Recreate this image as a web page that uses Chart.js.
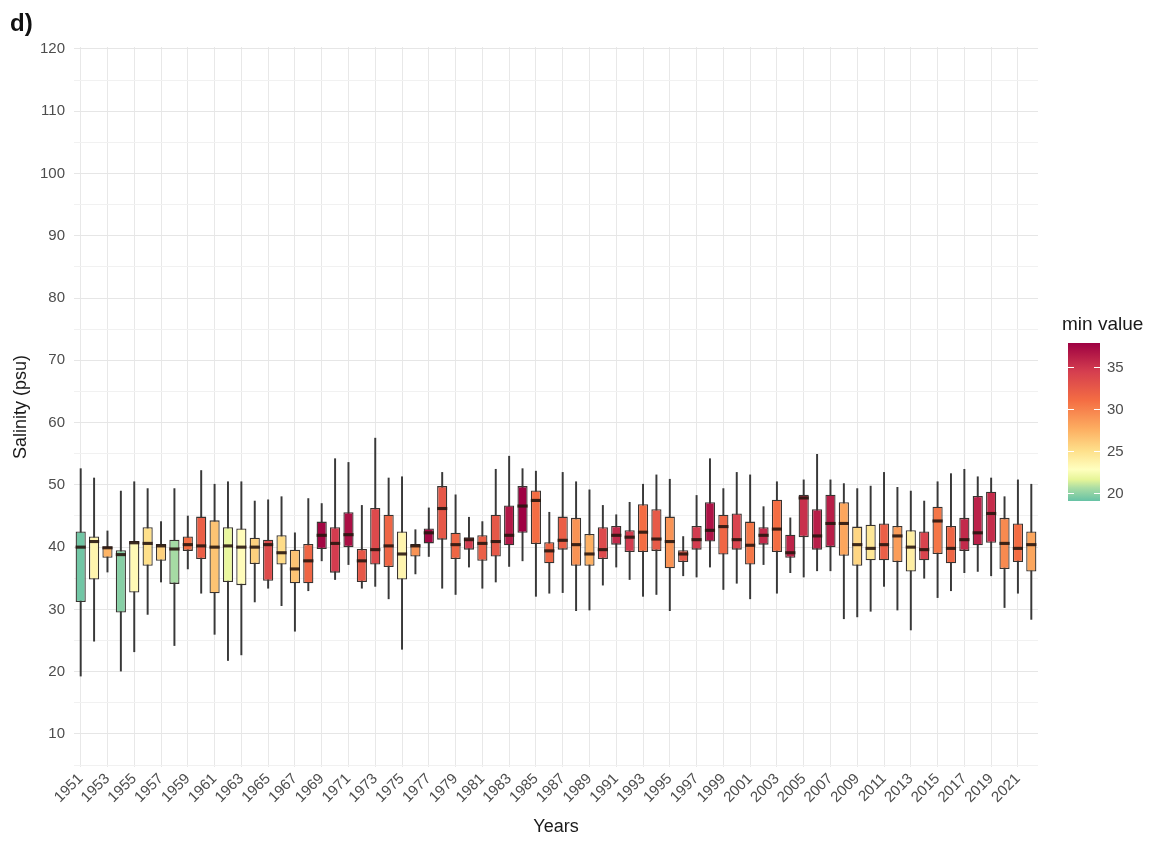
<!DOCTYPE html>
<html>
<head>
<meta charset="utf-8">
<script src="https://cdn.jsdelivr.net/npm/chart.js@4/dist/chart.umd.min.js"></script>
<style>
  body { margin: 0; background: #fff; font-family: "Liberation Sans", Arial, sans-serif; }
  #wrap { position: relative; width: 1160px; height: 842px; }
  #chart { position: absolute; left: 0; top: 0; }
  #tag { position: absolute; left: 10px; top: 9px; font-weight: bold; font-size: 24px; color: #111; }
  #legTitle { position: absolute; left: 1062px; top: 313px; font-size: 19px; color: #1a1a1a; }
  #legBar { position: absolute; left: 1068px; top: 343px; width: 32px; height: 158px; }
  .legLab { position: absolute; left: 1107px; font-size: 15px; color: #4d4d4d; line-height: 16px; }
  .legTick { position: absolute; width: 6px; height: 1px; background: #fff; }
</style>
</head>
<body>
<div id="wrap">
  <canvas id="chart" width="1160" height="842"></canvas>
  <div id="tag">d)</div>
  <div id="legTitle">min value</div>
  <div id="legBar"></div>
</div>
<script>
var years = ["1951","1952","1953","1954","1955","1956","1957","1958","1959","1960",
  "1961","1962","1963","1964","1965","1966","1967","1968","1969","1970",
  "1971","1972","1973","1974","1975","1976","1977","1978","1979","1980",
  "1981","1982","1983","1984","1985","1986","1987","1988","1989","1990",
  "1991","1992","1993","1994","1995","1996","1997","1998","1999","2000",
  "2001","2002","2003","2004","2005","2006","2007","2008","2009","2010",
  "2011","2012","2013","2014","2015","2016","2017","2018","2019","2020",
  "2021","2022"];

// boxplot stats per year (psu)
var whiskerHigh = [52.6,51.1,42.6,49.0,50.5,49.4,44.1,49.4,45.0,52.3,
  50.1,50.5,50.5,47.4,47.6,48.1,42.3,47.8,47.0,54.2,
  53.6,46.7,57.5,51.1,51.3,42.8,46.3,52.0,48.4,44.8,
  44.1,52.5,54.6,52.6,52.2,45.6,52.0,50.5,49.2,46.7,
  45.2,47.2,50.1,51.6,50.9,41.7,48.3,54.2,49.4,52.0,
  51.6,46.5,50.5,44.7,50.8,54.9,50.8,50.2,49.4,49.8,
  52.0,49.6,49.0,47.4,50.5,51.8,52.5,51.3,51.1,48.1,
  50.8,50.1];
var upperQ = [42.5,41.7,40.1,39.5,41.0,43.2,40.5,41.2,41.7,44.9,
  44.3,43.2,43.0,41.5,41.2,41.9,39.6,40.5,44.1,43.2,
  45.6,39.7,46.3,45.2,42.5,40.5,43.0,49.8,42.3,41.6,
  41.9,45.2,46.7,49.8,49.1,40.8,44.9,44.7,42.1,43.2,
  43.4,42.7,46.9,46.1,44.9,39.5,43.4,47.2,45.2,45.4,
  44.1,43.2,47.6,42.0,48.4,46.1,48.4,47.2,43.3,43.6,
  43.8,43.4,42.7,42.5,46.5,43.4,44.7,48.2,48.9,44.7,
  43.8,42.5];
var medians = [40.0,40.9,39.9,38.8,40.7,40.6,40.2,39.7,40.4,40.2,
  40.0,40.2,40.0,40.0,40.4,39.1,36.5,37.8,41.9,40.6,
  42.0,37.8,39.6,40.2,38.9,40.2,42.3,46.2,40.4,41.2,
  40.6,40.9,41.9,46.6,47.5,39.4,41.1,40.4,38.9,39.6,
  41.9,41.6,42.4,41.3,40.9,38.9,41.2,42.7,43.3,41.2,
  40.3,41.9,42.9,39.1,47.9,41.8,43.8,43.8,40.4,39.8,
  40.4,41.8,40.0,39.6,44.2,39.8,41.2,42.3,45.4,40.6,
  39.8,40.4];
var lowerQ = [31.2,34.8,38.3,29.5,32.7,37.0,37.8,34.1,39.4,38.1,
  32.6,34.4,33.9,37.3,34.6,37.2,34.2,34.2,39.7,35.9,
  40.0,34.4,37.2,36.8,34.8,38.5,40.6,41.2,38.1,39.6,
  37.8,38.5,40.3,42.3,40.5,37.4,39.6,37.0,37.0,38.1,
  40.4,39.2,39.2,39.4,36.6,37.6,39.6,40.9,38.8,39.6,
  37.2,40.4,39.2,38.3,41.6,39.6,40.0,38.6,37.0,37.9,
  37.9,37.6,36.1,37.9,38.9,37.4,39.4,40.3,40.7,36.5,
  37.6,36.1];
var whiskerLow = [19.3,24.9,36.0,20.1,23.2,29.2,34.4,24.2,36.5,32.6,
  26.0,21.8,22.7,31.2,33.4,30.6,26.5,33.0,37.8,34.8,
  37.2,33.4,33.7,31.7,23.6,35.7,38.5,33.4,32.4,36.8,
  33.4,34.4,36.9,37.8,32.1,32.6,32.7,29.8,29.9,33.9,
  36.8,34.8,32.1,32.4,29.8,35.4,35.2,36.8,33.2,34.2,
  31.7,37.2,32.6,35.9,35.2,36.2,36.2,28.5,28.8,29.7,
  33.7,29.9,26.7,35.0,31.9,33.0,35.9,36.1,35.4,30.3,
  32.6,28.4];
// minimum salinity of each year (fill colour)
var minValue = [19.3,23.5,27.3,19.8,23.2,25.0,25.8,20.5,31.0,32.0,
  26.5,21.8,23.0,25.8,33.4,25.2,26.5,31.5,37.5,34.5,
  37.0,32.5,33.5,31.5,23.5,29.0,37.5,32.5,31.5,34.5,
  32.0,32.5,36.5,37.8,31.0,31.5,32.0,29.0,27.5,33.5,
  35.5,34.5,31.0,32.4,29.0,32.5,34.5,36.8,31.5,34.0,
  30.5,35.5,31.0,35.9,35.2,36.2,36.2,28.0,25.5,24.5,
  32.0,28.5,24.0,34.0,30.5,31.5,35.5,36.0,35.4,29.5,
  31.0,28.0];

var yTicks = [5,10,15,20,25,30,35,40,45,50,55,60,65,70,75,80,85,90,95,100,105,110,115,120];
var legendTicks = [20, 25, 30, 35];

// colour ramp (Spectral-like), positions as fraction of the min-value range
var rampColors = ["#66C2A5","#ABDDA4","#E6F598","#FFFFBF","#FEE08B","#FDAE61","#F46D43","#D53E4F","#9E0142"];
var rampStops = [0, 0.083, 0.136, 0.2, 0.317, 0.456, 0.637, 0.819, 1];

var FONT = '"Liberation Sans", Arial, sans-serif';
var lo = 19.05, hi = Math.max.apply(null, minValue);

function hexToRgb(h) {
  return [parseInt(h.substr(1,2),16), parseInt(h.substr(3,2),16), parseInt(h.substr(5,2),16)];
}
function colorFor(v) {
  var t = (v - lo) / (hi - lo);
  t = Math.max(0, Math.min(1, t));
  for (var i = 1; i < rampStops.length; i++) {
    if (t <= rampStops[i]) {
      var f = (t - rampStops[i-1]) / (rampStops[i] - rampStops[i-1]);
      var a = hexToRgb(rampColors[i-1]), b = hexToRgb(rampColors[i]);
      return 'rgb(' + [0,1,2].map(function (k) { return Math.round(a[k] + (b[k]-a[k])*f); }).join(',') + ')';
    }
  }
  return rampColors[rampColors.length-1];
}

var boxData = lowerQ.map(function (v, i) { return [v, upperQ[i]]; });
var whiskerData = whiskerLow.map(function (v, i) { return [v, whiskerHigh[i]]; });
var medianData = medians.map(function (v) { return [v - 0.25, v + 0.25]; });
var fills = minValue.map(colorFor);

var ctx = document.getElementById('chart').getContext('2d');
var chart = new Chart(ctx, {
  type: 'bar',
  data: {
    labels: years,
    datasets: [
      { label: 'median', data: medianData, backgroundColor: 'rgba(40,22,15,0.9)', borderWidth: 0,
        barPercentage: 0.76, categoryPercentage: 1, grouped: false },
      { label: 'box', data: boxData, backgroundColor: fills, borderColor: '#383330', borderWidth: 1.3,
        borderSkipped: false, barPercentage: 0.76, categoryPercentage: 1, grouped: false },
      { label: 'whisker', data: whiskerData, backgroundColor: '#383838', barThickness: 1.3, grouped: false }
    ]
  },
  options: {
    responsive: false,
    animation: false,
    layout: { padding: { left: 0, right: 122, top: 47, bottom: 0 } },
    plugins: { legend: { display: false }, tooltip: { enabled: false } },
    scales: {
      x: {
        offset: true,
        grid: { offset: false, drawTicks: false,
                color: function (c) { return c.index % 2 === 0 ? '#e8e8e8' : 'rgba(0,0,0,0)'; } },
        border: { display: false },
        ticks: {
          autoSkip: false, maxRotation: 45, minRotation: 45, padding: 3,
          color: '#4d4d4d', font: { family: FONT, size: 15 },
          callback: function (v, i) { return i % 2 === 0 ? this.getLabelForValue(v) : ''; }
        },
        title: { display: true, text: 'Years', color: '#1a1a1a', font: { family: FONT, size: 18 },
                 padding: { top: 0, bottom: 4 } },
        afterFit: function (s) { s.height = 75; }
      },
      y: {
        min: 4.7, max: 120.3,
        afterBuildTicks: function (s) { s.ticks = yTicks.map(function (v) { return { value: v }; }); },
        grid: { drawTicks: false,
                color: function (c) { return c.tick && c.tick.value % 10 === 0 ? '#e6e6e6' : '#f1f1f1'; } },
        border: { display: false },
        ticks: { padding: 9, color: '#4d4d4d', font: { family: FONT, size: 15 },
                 callback: function (v) { return v % 10 === 0 ? String(v) : ''; } },
        title: { display: true, text: 'Salinity (psu)', color: '#1a1a1a', font: { family: FONT, size: 18 },
                 padding: { top: 10, bottom: 0 } },
        afterFit: function (s) { s.width = 74; }
      }
    }
  }
});

// colour bar legend
var bar = document.getElementById('legBar');
var barTop = 343, barH = 158, barLeft = 1068, barW = 32;
bar.style.background = 'linear-gradient(to top,' + rampColors.map(function (c, i) {
  return c + ' ' + (rampStops[i] * 100) + '%';
}).join(',') + ')';
var wrap = document.getElementById('wrap');
legendTicks.forEach(function (v) {
  var y = barTop + (hi - v) / (hi - lo) * barH;
  var lab = document.createElement('div');
  lab.className = 'legLab';
  lab.style.top = (y - 8) + 'px';
  lab.textContent = v;
  wrap.appendChild(lab);
  [barLeft, barLeft + barW - 6].forEach(function (x) {
    var t = document.createElement('div');
    t.className = 'legTick';
    t.style.left = x + 'px';
    t.style.top = Math.round(y) + 'px';
    wrap.appendChild(t);
  });
});
</script>
</body>
</html>
